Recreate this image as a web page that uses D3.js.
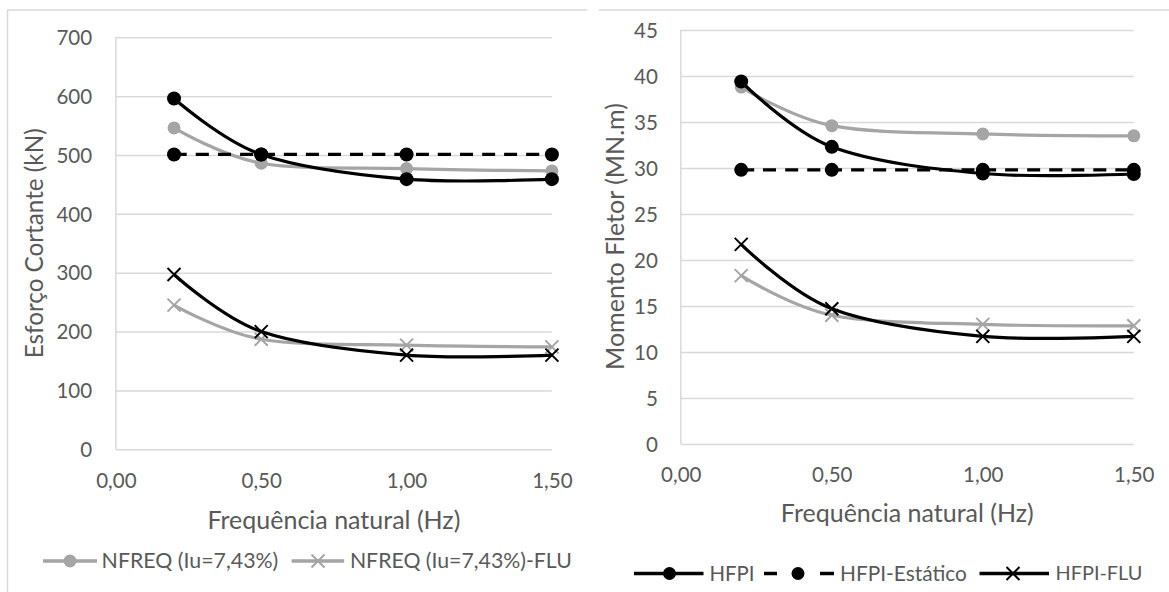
<!DOCTYPE html>
<html><head><meta charset="utf-8">
<script src="https://cdn.jsdelivr.net/npm/d3@7"></script>
<style>body{margin:0;background:#fff}svg{display:block}</style>
</head><body>
<svg id="c" width="1169" height="592"></svg>
<script>
// ---------- data ----------
const freq = [0.2, 0.5, 1.0, 1.5];
const xTickValues = [0, 0.5, 1.0, 1.5];
// Left chart: Esforço Cortante (kN)
const shearNFREQ     = [546, 486, 477, 473];
const shearNFREQFLU  = [245, 187, 177, 174];
const shearHFPI      = [596, 501, 459, 459];
const shearHFPIEst   = [501, 501, 501, 501];
const shearHFPIFLU   = [297, 200, 160, 160];
const shearTicks = [0, 100, 200, 300, 400, 500, 600, 700];
// Right chart: Momento Fletor (MN.m)
const momNFREQ     = [38.8, 34.6, 33.7, 33.5];
const momNFREQFLU  = [18.3, 14.0, 13.0, 12.85];
const momHFPI      = [39.4, 32.3, 29.4, 29.35];
const momHFPIEst   = [29.8, 29.8, 29.8, 29.8];
const momHFPIFLU   = [21.7, 14.7, 11.7, 11.7];
const momTicks = [0, 5, 10, 15, 20, 25, 30, 35, 40, 45];
const xTitle = "Frequência natural (Hz)";
const legendLeft = ["NFREQ (Iu=7,43%)", "NFREQ (Iu=7,43%)-FLU"];
const legendRight = ["HFPI", "HFPI-Estático", "HFPI-FLU"];

// ---------- style ----------
const FONT = "Lato, 'Open Sans', sans-serif";
const TXT = "#595959", GRID = "#d9d9d9", GRAY = "#a5a5a5", BLACK = "#000";
const svg = d3.select("#c");
const fmtX = v => d3.format(".2f")(v).replace(".", ",");

function fitText(sel, target) {
  const w = sel.node().getComputedTextLength();
  const fs = parseFloat(sel.attr("font-size"));
  sel.attr("font-size", fs * target / w);
  return sel;
}
const probe = svg.append("text").attr("font-family", FONT).attr("font-size", 20).text("700");
fitText(probe, 35.8);
const TICK_FS = parseFloat(probe.attr("font-size"));
probe.remove();

// chart frames (partial borders as in reference)
svg.append("line").attr("x1", 7).attr("x2", 587).attr("y1", 10).attr("y2", 10).attr("stroke", GRID).attr("stroke-width", 1.5);
svg.append("line").attr("x1", 7.5).attr("x2", 7.5).attr("y1", 10).attr("y2", 592).attr("stroke", GRID).attr("stroke-width", 1.5);
svg.append("line").attr("x1", 599).attr("x2", 1169).attr("y1", 10).attr("y2", 10).attr("stroke", GRID).attr("stroke-width", 1.5);

function drawChart(cfg) {
  const x = d3.scaleLinear().domain([0, 1.5]).range([cfg.left, cfg.right]);
  const y = d3.scaleLinear().domain([0, cfg.yMax]).range([cfg.bottom, cfg.top]);
  const g = svg.append("g");

  const ya = g.append("g").attr("transform", `translate(${cfg.left},0)`)
    .call(d3.axisLeft(y).tickValues(cfg.yTicks).tickSizeInner(-(cfg.right - cfg.left)).tickSizeOuter(0).tickPadding(cfg.yPad).tickFormat(d3.format("d")));
  ya.select(".domain").remove();
  ya.selectAll("line").attr("stroke", GRID).attr("stroke-width", 1.5);
  ya.selectAll("text").attr("fill", TXT).attr("font-family", FONT).attr("font-size", TICK_FS).attr("dy", "0.35em");
  g.append("line").attr("x1", cfg.left).attr("x2", cfg.left).attr("y1", cfg.top).attr("y2", cfg.bottom).attr("stroke", GRID).attr("stroke-width", 1.5);

  const xa = g.append("g").attr("transform", `translate(0,${cfg.bottom})`)
    .call(d3.axisBottom(x).tickValues(xTickValues).tickSize(0).tickPadding(cfg.xPad).tickFormat(fmtX));
  xa.select(".domain").remove();
  xa.selectAll("text").attr("fill", TXT).attr("font-family", FONT).attr("font-size", TICK_FS).attr("dy", "0.35em");

  const xt = g.append("text").attr("x", (cfg.left + cfg.right) / 2).attr("y", cfg.xTitleY).attr("dy", "0.35em")
    .attr("text-anchor", "middle").attr("fill", TXT).attr("font-family", FONT).attr("font-size", 22).text(xTitle);
  fitText(xt, 253);
  const yt = g.append("text").attr("transform", `translate(${cfg.yTitleX},${cfg.yTitleCY}) rotate(-90)`).attr("dy", "0.35em")
    .attr("text-anchor", "middle").attr("fill", TXT).attr("font-family", FONT).attr("font-size", 22).text(cfg.yTitle);
  fitText(yt, cfg.yTitleW);

  const line = d3.line().x((d, i) => x(freq[i])).y(d => y(d)).curve(d3.curveCatmullRom.alpha(0));
  const series = [
    {v: cfg.s[0], color: GRAY, mark: "circle", r: 6.5, dash: null},
    {v: cfg.s[1], color: GRAY, mark: "x", r: 6.5, dash: null},
    {v: cfg.s[2], color: BLACK, mark: "circle", r: 7, dash: null},
    {v: cfg.s[3], color: BLACK, mark: "circle", r: 7, dash: "13,9"},
    {v: cfg.s[4], color: BLACK, mark: "x", r: 6.5, dash: null}
  ];
  series.forEach(s => {
    g.append("path").datum(s.v).attr("d", line).attr("fill", "none").attr("stroke", s.color)
      .attr("stroke-width", 3.2).attr("stroke-dasharray", s.dash);
    s.v.forEach((d, i) => drawMarker(g, s.mark, x(freq[i]), y(d), s.r, s.color));
  });
}

function drawMarker(g, mark, cx, cy, r, color) {
  if (mark === "circle") {
    g.append("circle").attr("cx", cx).attr("cy", cy).attr("r", r).attr("fill", color);
  } else {
    g.append("path").attr("d", `M${cx - r},${cy - r}L${cx + r},${cy + r}M${cx - r},${cy + r}L${cx + r},${cy - r}`)
      .attr("stroke", color).attr("stroke-width", 2).attr("fill", "none");
  }
}

drawChart({left: 115.9, right: 551.9, top: 37.3, bottom: 449.3, yMax: 700, yTicks: shearTicks, yPad: 23.7, xPad: 32,
  xTitleY: 520, yTitleX: 34, yTitleCY: 243.3, yTitleW: 230, yTitle: "Esforço Cortante (kN)",
  s: [shearNFREQ, shearNFREQFLU, shearHFPI, shearHFPIEst, shearHFPIFLU]});
drawChart({left: 680.8, right: 1133.8, top: 30, bottom: 444, yMax: 45, yTicks: momTicks, yPad: 22.9, xPad: 31,
  xTitleY: 513.3, yTitleX: 615.7, yTitleCY: 236.5, yTitleW: 267, yTitle: "Momento Fletor (MN.m)",
  s: [momNFREQ, momNFREQFLU, momHFPI, momHFPIEst, momHFPIFLU]});

// ---------- legends ----------
function legendText(x0, y0, label, w) {
  const t = svg.append("text").attr("x", x0).attr("y", y0).attr("dy", "0.35em").attr("fill", TXT)
    .attr("font-family", FONT).attr("font-size", 22).text(label);
  fitText(t, w);
}
function legLine(x1, x2, yy, color) {
  svg.append("line").attr("x1", x1).attr("x2", x2).attr("y1", yy).attr("y2", yy).attr("stroke", color).attr("stroke-width", 3.5);
}
const LY = 561, RY = 573.5;
legLine(43, 97, LY, GRAY); drawMarker(svg, "circle", 70, LY, 6.5, GRAY); legendText(101.6, LY, legendLeft[0], 176.8);
legLine(291.6, 344.2, LY, GRAY); drawMarker(svg, "x", 318, LY, 6.5, GRAY); legendText(349.9, LY, legendLeft[1], 222);

legLine(634, 703.5, RY, BLACK); drawMarker(svg, "circle", 669.5, RY, 6.5, BLACK); legendText(709.5, RY, legendRight[0], 45);
legLine(764, 777, RY, BLACK); legLine(820, 834, RY, BLACK); drawMarker(svg, "circle", 798, RY, 6.5, BLACK); legendText(840, RY, legendRight[1], 127);
legLine(979.5, 1049, RY, BLACK); drawMarker(svg, "x", 1013, RY, 6.5, BLACK); legendText(1055.5, RY, legendRight[2], 87);
</script>
</body></html>
